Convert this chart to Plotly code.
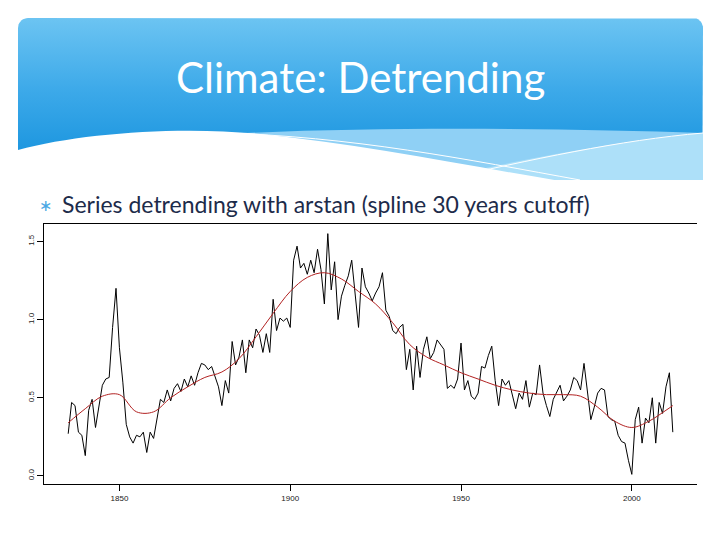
import numpy as np
import plotly.graph_objects as go

# ---------------- data ----------------
years = list(range(1835, 2013))
ring_index = [
    0.27, 0.47, 0.45, 0.28, 0.26, 0.13, 0.42, 0.49, 0.31, 0.46,  # 1835-1844
    0.58, 0.62, 0.63, 0.95, 1.20, 0.82, 0.60, 0.33, 0.25, 0.21,  # 1845-1854
    0.26, 0.25, 0.28, 0.15, 0.28, 0.24, 0.38, 0.49, 0.47, 0.55,  # 1855-1864
    0.48, 0.56, 0.59, 0.54, 0.62, 0.57, 0.64, 0.58, 0.66, 0.72,  # 1865-1874
    0.71, 0.68, 0.70, 0.64, 0.57, 0.45, 0.61, 0.53, 0.86, 0.71,  # 1875-1884
    0.76, 0.87, 0.66, 0.87, 0.82, 0.94, 0.90, 0.79, 0.91, 0.79,  # 1885-1894
    1.13, 0.93, 1.01, 0.99, 1.01, 0.95, 1.38, 1.47, 1.33, 1.36,  # 1895-1904
    1.29, 1.38, 1.30, 1.45, 1.32, 1.10, 1.55, 1.19, 1.37, 1.00,  # 1905-1914
    1.15, 1.22, 1.28, 1.38, 1.15, 0.95, 1.33, 1.21, 1.17, 1.12,  # 1915-1924
    1.17, 1.21, 1.30, 1.06, 1.02, 0.93, 0.91, 0.95, 0.97, 0.68,  # 1925-1934
    0.81, 0.55, 0.83, 0.63, 0.81, 0.89, 0.75, 0.79, 0.87, 0.84,  # 1935-1944
    0.81, 0.56, 0.58, 0.56, 0.62, 0.85, 0.55, 0.61, 0.51, 0.49,  # 1945-1954
    0.53, 0.70, 0.69, 0.77, 0.83, 0.61, 0.45, 0.62, 0.58, 0.61,  # 1955-1964
    0.51, 0.43, 0.53, 0.49, 0.61, 0.44, 0.53, 0.52, 0.71, 0.53,  # 1965-1974
    0.45, 0.38, 0.49, 0.53, 0.58, 0.48, 0.51, 0.55, 0.63, 0.61,  # 1975-1984
    0.55, 0.72, 0.53, 0.36, 0.44, 0.53, 0.56, 0.55, 0.38, 0.36,  # 1985-1994
    0.35, 0.26, 0.22, 0.21, 0.10, 0.01, 0.36, 0.44, 0.21, 0.37,  # 1995-2004
    0.34, 0.50, 0.21, 0.47, 0.40, 0.57, 0.66, 0.28,              # 2005-2012
]
spline_years = [1835, 1840, 1845, 1850, 1855, 1860, 1865, 1870, 1875, 1880,
                1885, 1890, 1895, 1900, 1905, 1910, 1915, 1920, 1925, 1930,
                1935, 1940, 1945, 1950, 1955, 1960, 1965, 1970, 1975, 1980,
                1985, 1990, 1995, 2000, 2005, 2010, 2012]
spline_values = [0.34, 0.43, 0.51, 0.52, 0.41, 0.41, 0.50, 0.57, 0.63, 0.665,
                 0.75, 0.89, 1.04, 1.18, 1.27, 1.30, 1.26, 1.18, 1.10, 0.98,
                 0.84, 0.76, 0.71, 0.66, 0.62, 0.58, 0.55, 0.53, 0.52, 0.52,
                 0.51, 0.44, 0.35, 0.31, 0.35, 0.42, 0.45]
x_ticks = [1850, 1900, 1950, 2000]
y_ticks = [0.0, 0.5, 1.0, 1.5]
y_tick_labels = ["0.0", "0.5", "1.0", "1.5"]
title_text = "Climate: Detrending"
bullet_text = "Series detrending with arstan (spline 30 years cutoff)"

assert len(years) == len(ring_index)

W, H = 720, 540

# R-style axis ranges (4% padding)
xr = max(years) - min(years)
x_range = [min(years) - 0.04 * xr, max(years) + 0.04 * xr]
yr_ = max(ring_index) - min(ring_index)
y_range = [min(ring_index) - 0.04 * yr_, max(ring_index) + 0.04 * yr_]

fig = go.Figure()

# ---------------- slide header (pixel-space overlay axes) ----------------
def rounded_rect(x0, y0, x1, y1, r, n=10):
    px, py = [], []
    for cx, cy, a0 in [(x0 + r, y0 + r, 180), (x1 - r, y0 + r, 270),
                       (x1 - r, y1 - r, 0), (x0 + r, y1 - r, 90)]:
        for t in np.linspace(a0, a0 + 90, n):
            px.append(cx + r * np.cos(np.radians(t)))
            py.append(cy + r * np.sin(np.radians(t)))
    px.append(px[0]); py.append(py[0])
    return px, py

hx, hy = rounded_rect(18, 18, 703, 180, 10)
fig.add_trace(go.Scatter(
    x=hx, y=hy, xaxis="x2", yaxis="y2", mode="lines", fill="toself",
    line=dict(width=0, color="rgba(0,0,0,0)"),
    fillgradient=dict(type="vertical",
                      colorscale=[[0, "#0f8edb"], [0.55, "#3ca9e9"], [1, "#6cc4f2"]]),
    hoverinfo="skip", showlegend=False))

# ---------------- data traces ----------------
fig.add_trace(go.Scatter(
    x=years, y=ring_index, mode="lines",
    line=dict(color="black", width=1), hoverinfo="skip", showlegend=False))
fig.add_trace(go.Scatter(
    x=spline_years, y=spline_values, mode="lines",
    line=dict(color="#b22222", width=1, shape="spline"),
    hoverinfo="skip", showlegend=False))

shapes = [
    dict(type="path", xref="x2", yref="y2", layer="above",
         path="M 190,136 C 350,126 550,128 703,133 L 703,180 L 190,180 Z",
         fillcolor="#8fd0f5", line=dict(width=0)),
    dict(type="path", xref="x2", yref="y2", layer="above",
         path="M 430,180 C 520,160 610,142 703,133 L 703,180 Z",
         fillcolor="#ade0f9", line=dict(width=0)),
    dict(type="path", xref="x2", yref="y2", layer="above",
         path="M 18,150 C 80,133 180,126 260,134 C 360,144 470,166 560,181 L 18,181 Z",
         fillcolor="white", line=dict(width=0)),
    dict(type="path", xref="x2", yref="y2", layer="above",
         path="M 220,133 C 350,136 470,160 580,180",
         line=dict(color="white", width=1)),
    dict(type="path", xref="x2", yref="y2", layer="above",
         path="M 440,180 C 530,160 620,140 703,133",
         line=dict(color="white", width=1)),
]

annotations = [
    dict(text=title_text, xref="x2", yref="y2", x=360, y=77, showarrow=False,
         font=dict(family="Lato", size=42, color="white"),
         xanchor="center", yanchor="middle"),
    dict(text="∗", xref="x2", yref="y2", x=45, y=205, showarrow=False,
         font=dict(family="DejaVu Sans", size=16, color="#4aa8e4"),
         xanchor="center", yanchor="middle"),
    dict(text=bullet_text, xref="x2", yref="y2", x=60, y=204, showarrow=False,
         font=dict(family="Lato", size=23, color="#1d2b4a"),
         xanchor="left", yanchor="middle"),
]

tick_font = dict(family="Liberation Sans", size=8, color="#222")

fig.update_layout(
    width=W, height=H,
    margin=dict(l=0, r=0, t=0, b=0),
    paper_bgcolor="white", plot_bgcolor="rgba(0,0,0,0)",
    shapes=shapes, annotations=annotations,
    xaxis=dict(domain=[44 / W, 697 / W], range=x_range, anchor="y",
               showgrid=False, zeroline=False,
               showline=True, linecolor="black", linewidth=1, mirror=True,
               ticks="outside", ticklen=6, tickcolor="black", tickwidth=1,
               tickvals=x_ticks, ticktext=[str(v) for v in x_ticks],
               tickfont=tick_font),
    yaxis=dict(domain=[1 - 484 / H, 1 - 224 / H], range=y_range, anchor="x",
               showgrid=False, zeroline=False,
               showline=True, linecolor="black", linewidth=1, mirror=False,
               ticks="outside", ticklen=6, tickcolor="black", tickwidth=1,
               tickvals=y_ticks, ticktext=y_tick_labels, tickangle=-90,
               tickfont=tick_font),
    xaxis2=dict(domain=[0, 1], range=[0, W], anchor="y2", visible=False,
                fixedrange=True),
    yaxis2=dict(domain=[0, 1], range=[H, 0], anchor="x2", visible=False,
                fixedrange=True),
)

fig.write_html("out.html",
               config={"displayModeBar": False},
               post_script="document.body.style.margin='0';"
                           "document.body.style.overflow='hidden';")
